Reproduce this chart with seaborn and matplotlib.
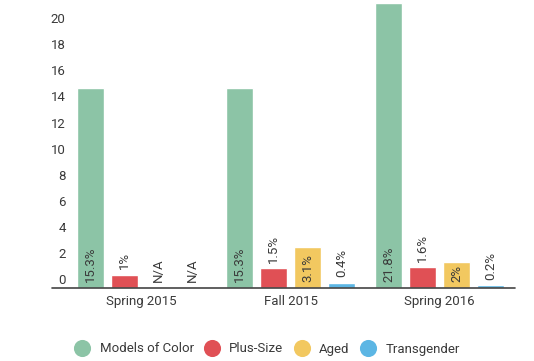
import seaborn as sns
import matplotlib.pyplot as plt
import matplotlib.transforms as mtransforms
from matplotlib.lines import Line2D
import pandas as pd
import numpy as np

# data
seasons = ['Spring 2015', 'Fall 2015', 'Spring 2016']
groups = ['Models of Color', 'Plus-Size', 'Aged', 'Transgender']
models_of_color = [15.3, 15.3, 21.8]
plus_size = [1.0, 1.5, 1.6]
aged = [np.nan, 3.1, 2.0]
transgender = [np.nan, 0.4, 0.2]
colors = ['#8cc4a6', '#e05055', '#f2c860', '#5cb6e4']

values = [models_of_color, plus_size, aged, transgender]
rows = []
for g, vals in zip(groups, values):
    for s, v in zip(seasons, vals):
        rows.append({'season': s, 'group': g, 'pct': v})
df = pd.DataFrame(rows)

sns.set_style('white')
plt.rcParams['font.family'] = ['Roboto', 'DejaVu Sans']
text_color = '#3a3a3a'

fig = plt.figure(figsize=(5.34, 3.61), dpi=100)
W, H = 534, 361
left, right, top, base = 67, 514, 0, 288
ax = fig.add_axes([left / W, (H - base) / H, (right - left) / W, (base - top) / H])

width = 0.913
sns.barplot(data=df.dropna(), x='season', y='pct', hue='group',
            order=seasons, hue_order=groups, palette=colors,
            width=width, gap=0.2, saturation=1, legend=False, ax=ax)

ax.set_xlim(-0.5, 2.5)
ax.set_ylim(0, 22.03)
ax.set_xlabel('')
ax.set_ylabel('')
for sp in ax.spines.values():
    sp.set_visible(False)

# y ticks, labels sitting above their value
ax.set_yticks(range(0, 21, 2))
ax.tick_params(axis='y', length=0, pad=1, labelsize=9.5, labelcolor=text_color)
shift = mtransforms.ScaledTranslation(0, 8.5 / 100, fig.dpi_scale_trans)
for lab in ax.get_yticklabels():
    lab.set_transform(lab.get_transform() + shift)

# x ticks and category separators
ax.set_xticks(range(len(seasons)))
ax.set_xticklabels(seasons)
ax.tick_params(axis='x', which='major', length=0, pad=5, labelsize=9.5, labelcolor=text_color)
ax.set_xticks([-0.5, 0.5, 1.5, 2.5], minor=True)
ax.tick_params(axis='x', which='minor', length=18, width=1.0, color='#999999', direction='out')

# baseline
x0 = (52 - left) / (right - left)
x1 = (515 - left) / (right - left)
ax.axhline(0, xmin=x0, xmax=x1, color='#444444', lw=1.2, clip_on=False, zorder=5)

# value labels
slot = width / len(groups)
px_per_unit = (base - top) / 22.03
for j, vals in enumerate(values):
    for i, v in enumerate(vals):
        x = i - width / 2 + slot * (j + 0.5)
        if np.isnan(v):
            lab, y = 'N/A', 0
        else:
            lab = f'{v:g}%'
            fits = v * px_per_unit > len(lab) * 7
            y = 0 if fits else v
        ax.annotate(lab, (x, y), xytext=(0, 4), textcoords='offset points',
                    rotation=90, ha='center', va='bottom', fontsize=9.5,
                    color=text_color)

# legend
handles = [Line2D([], [], marker='o', linestyle='none', markersize=11.3,
                  markerfacecolor=c, markeredgecolor=c) for c in colors]
fig.legend(handles, groups, loc='center', bbox_to_anchor=(0.5, 12 / H),
           ncol=4, frameon=False, fontsize=9.5, labelcolor=text_color,
           handlelength=1.2, handletextpad=0.7, columnspacing=0.8)

fig.savefig('out.png', dpi=100)
